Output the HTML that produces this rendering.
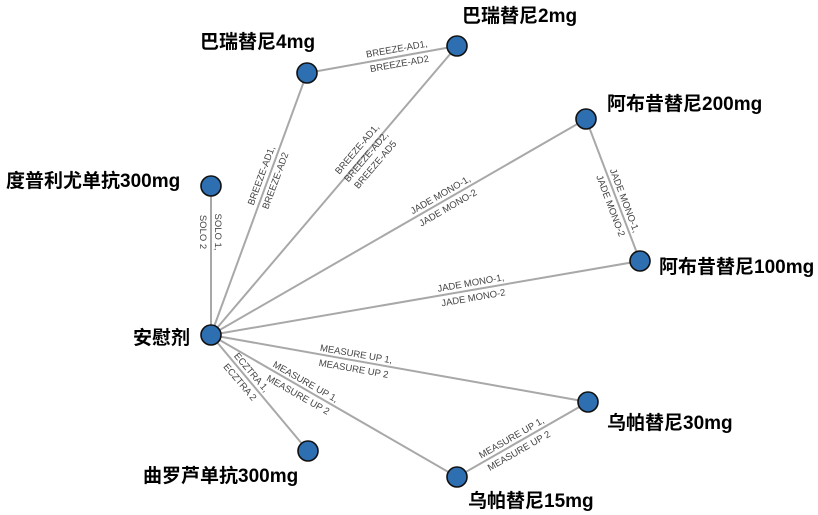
<!DOCTYPE html>
<html><head><meta charset="utf-8"><style>
html,body{margin:0;padding:0;background:#fff;}
svg{display:block;}
.e{stroke:#a8a8a8;stroke-width:2;fill:none}
.l{font-family:"Liberation Sans",Arial,sans-serif;font-size:9.5px;fill:#444;text-anchor:middle}
.n{fill:#2e6fb2;stroke:#111;stroke-width:1.6}
.t{font-family:"Liberation Sans","Noto Sans CJK SC",sans-serif;font-size:19px;font-weight:bold;fill:#000;dominant-baseline:middle}
</style></head><body>
<svg width="818" height="515" viewBox="0 0 818 515" xmlns="http://www.w3.org/2000/svg">
<g class="e">
<line x1="211" y1="335" x2="211" y2="186"/>
<line x1="211" y1="335" x2="307" y2="73"/>
<line x1="211" y1="335" x2="457" y2="46"/>
<line x1="307" y1="73" x2="457" y2="46"/>
<line x1="211" y1="335" x2="586" y2="119"/>
<line x1="211" y1="335" x2="640" y2="261"/>
<line x1="586" y1="119" x2="640" y2="261"/>
<line x1="211" y1="335" x2="588" y2="402"/>
<line x1="211" y1="335" x2="457" y2="477"/>
<line x1="211" y1="335" x2="308" y2="451"/>
<line x1="457" y1="477" x2="588" y2="402"/>
</g>
<g class="l">
<g transform="translate(211,232) rotate(90)"><text y="-4">SOLO 1,</text><text y="11">SOLO 2</text></g>
<g transform="translate(268,178) rotate(-69.8)"><text y="-4">BREEZE-AD1,</text><text y="11">BREEZE-AD2</text></g>
<g transform="translate(364,155) rotate(-49.6)"><text y="-6">BREEZE-AD1,</text><text y="6">BREEZE-AD2,</text><text y="18">BREEZE-AD5</text></g>
<g transform="translate(398,56) rotate(-10.2)"><text y="-4">BREEZE-AD1,</text><text y="11">BREEZE-AD2</text></g>
<g transform="translate(444,201) rotate(-30)"><text y="-4">JADE MONO-1,</text><text y="11">JADE MONO-2</text></g>
<g transform="translate(472,290) rotate(-9.9)"><text y="-4">JADE MONO-1,</text><text y="11">JADE MONO-2</text></g>
<g transform="translate(618,203) rotate(69.2)"><text y="-4">JADE MONO-1,</text><text y="11">JADE MONO-2</text></g>
<g transform="translate(355,361) rotate(9.9)"><text y="-4">MEASURE UP 1,</text><text y="11">MEASURE UP 2</text></g>
<g transform="translate(302,388) rotate(29.7)"><text y="-4">MEASURE UP 1,</text><text y="11">MEASURE UP 2</text></g>
<g transform="translate(246,377) rotate(49.6)"><text y="-4">ECZTRA 1,</text><text y="11">ECZTRA 2</text></g>
<g transform="translate(515,444) rotate(-29.8)"><text y="-4">MEASURE UP 1,</text><text y="11">MEASURE UP 2</text></g>
</g>
<g>
<circle class="n" cx="211" cy="186" r="10"/>
<circle class="n" cx="211" cy="335" r="10"/>
<circle class="n" cx="307" cy="73" r="10"/>
<circle class="n" cx="457" cy="46" r="10"/>
<circle class="n" cx="586" cy="119" r="10"/>
<circle class="n" cx="640" cy="261" r="10"/>
<circle class="n" cx="588" cy="402" r="10"/>
<circle class="n" cx="457" cy="477" r="10"/>
<circle class="n" cx="308" cy="451" r="10"/>
</g>
<g class="t">
<text x="200" y="43">巴瑞替尼4mg</text>
<text x="462" y="17">巴瑞替尼2mg</text>
<text x="6" y="182">度普利尤单抗300mg</text>
<text x="607" y="105">阿布昔替尼200mg</text>
<text x="659" y="268">阿布昔替尼100mg</text>
<text x="133" y="339">安慰剂</text>
<text x="607" y="424">乌帕替尼30mg</text>
<text x="143" y="477">曲罗芦单抗300mg</text>
<text x="468" y="502">乌帕替尼15mg</text>
</g>
</svg>
</body></html>
